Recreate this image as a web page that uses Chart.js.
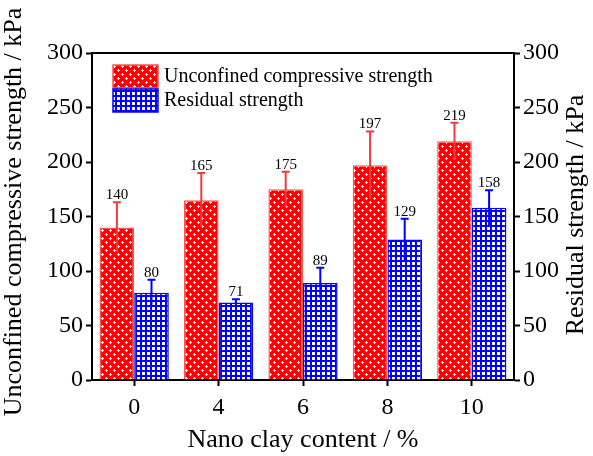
<!DOCTYPE html>
<html>
<head>
<meta charset="utf-8">
<script src="https://cdn.jsdelivr.net/npm/chart.js@4"></script>
<style>
  body { margin: 0; background: #fff; }
  canvas { display: block; }
</style>
</head>
<body>
<canvas id="graphe" width="593" height="456"></canvas>
<script>
// données : teneur en nano-argile (%) et résistances (kPa)
const categories = ['0', '4', '6', '8', '10'];
const ucsValues = [140, 165, 175, 197, 219];
const ucsErrors = [23, 25, 16, 31, 17];
const residualValues = [80, 71, 89, 129, 158];
const residualErrors = [12, 3, 14, 19, 16];

const serif = "'Liberation Serif', 'Times New Roman', serif";

// motif rouge : croix blanches en quinconce
function motifRouge() {
  const c = document.createElement('canvas');
  c.width = 8; c.height = 8;
  const g = c.getContext('2d');
  g.fillStyle = '#ff0000';
  g.fillRect(0, 0, 8, 8);
  g.fillStyle = '#ffffff';
  for (const [x, y] of [[1, 1], [5, 5]]) {
    g.fillRect(x + 1, y, 1, 3);
    g.fillRect(x, y + 1, 3, 1);
  }
  return g.createPattern(c, 'repeat');
}

// motif bleu : quadrillage
function motifBleu() {
  const c = document.createElement('canvas');
  c.width = 5; c.height = 5;
  const g = c.getContext('2d');
  g.fillStyle = '#0000ff';
  g.fillRect(0, 0, 5, 5);
  g.fillStyle = '#ffffff';
  g.fillRect(2, 2, 3, 3);
  return g.createPattern(c, 'repeat');
}

const rouge = motifRouge();
const bleu = motifBleu();

// barres d'erreur + valeurs au-dessus
const barresErreur = {
  id: 'barresErreur',
  afterDatasetsDraw(chart) {
    const ctx = chart.ctx;
    const erreurs = [ucsErrors, residualErrors];
    const couleurs = ['#ee3b3b', '#0000ff'];
    chart.data.datasets.forEach((ds, i) => {
      const meta = chart.getDatasetMeta(i);
      const y = chart.scales[ds.yAxisID];
      meta.data.forEach((bar, j) => {
        const v = ds.data[j];
        const e = erreurs[i][j];
        const yHaut = y.getPixelForValue(v + e);
        const yBas = y.getPixelForValue(v - e);
        ctx.save();
        ctx.strokeStyle = couleurs[i];
        ctx.lineWidth = 2;
        ctx.beginPath();
        ctx.moveTo(bar.x, yBas);
        ctx.lineTo(bar.x, yHaut);
        ctx.moveTo(bar.x - 4, yHaut);
        ctx.lineTo(bar.x + 4, yHaut);
        ctx.stroke();
        ctx.fillStyle = '#000';
        ctx.font = '15px ' + serif;
        ctx.textAlign = 'center';
        ctx.textBaseline = 'alphabetic';
        ctx.fillText(String(v), bar.x, yHaut - 3);
        ctx.restore();
      });
    });
  }
};

// cadre du haut, titres d'axes et légende
const habillage = {
  id: 'habillage',
  afterDraw(chart) {
    const ctx = chart.ctx;
    const a = chart.chartArea;
    ctx.save();
    ctx.strokeStyle = '#000';
    ctx.lineWidth = 2;
    ctx.beginPath();
    ctx.moveTo(a.left - 1, a.top);
    ctx.lineTo(a.right + 1, a.top);
    ctx.stroke();

    ctx.fillStyle = '#000';
    ctx.font = '26px ' + serif;
    ctx.textAlign = 'center';
    ctx.textBaseline = 'middle';
    ctx.fillText('Nano clay content / %', (a.left + a.right) / 2, 440);

    ctx.save();
    ctx.translate(14, 212);
    ctx.rotate(-Math.PI / 2);
    ctx.fillText('Unconfined compressive strength / kPa', 0, 0);
    ctx.restore();

    ctx.save();
    ctx.translate(576, 215);
    ctx.rotate(-Math.PI / 2);
    ctx.fillText('Residual strength / kPa', 0, 0);
    ctx.restore();

    // légende
    const items = [
      { texte: 'Unconfined compressive strength', fond: rouge, bord: '#f25a5a' },
      { texte: 'Residual strength', fond: bleu, bord: '#0000ff' }
    ];
    ctx.font = '20px ' + serif;
    ctx.textAlign = 'left';
    items.forEach((it, i) => {
      const y = 65 + i * 24;
      ctx.fillStyle = it.fond;
      ctx.fillRect(113, y, 45, 23);
      ctx.strokeStyle = it.bord;
      ctx.lineWidth = 1.5;
      ctx.strokeRect(113, y, 45, 23);
      ctx.fillStyle = '#000';
      ctx.fillText(it.texte, 164, y + 12);
    });
    ctx.restore();
  }
};

const axeY = (position, largeur) => ({
  type: 'linear',
  position: position,
  min: 0,
  max: 300,
  ticks: { stepSize: 50, color: '#000', font: { family: serif, size: 24 }, padding: 3 },
  grid: { drawOnChartArea: false, drawTicks: true, tickLength: 6, tickColor: '#000', tickWidth: 2 },
  border: { display: true, color: '#000', width: 2 },
  afterFit: (s) => { s.width = largeur; }
});

new Chart(document.getElementById('graphe'), {
  type: 'bar',
  data: {
    labels: categories,
    datasets: [
      {
        label: 'Unconfined compressive strength',
        data: ucsValues,
        backgroundColor: rouge,
        borderColor: '#f25a5a',
        borderWidth: 1.5,
        yAxisID: 'y'
      },
      {
        label: 'Residual strength',
        data: residualValues,
        backgroundColor: bleu,
        borderColor: '#0000ff',
        borderWidth: 1.5,
        yAxisID: 'y1'
      }
    ]
  },
  options: {
    responsive: false,
    animation: false,
    layout: { padding: { top: 53, left: 0, right: 0, bottom: 0 } },
    datasets: { bar: { categoryPercentage: 0.82, barPercentage: 1.0 } },
    plugins: { legend: { display: false }, tooltip: { enabled: false } },
    scales: {
      x: {
        offset: true,
        ticks: { color: '#000', font: { family: serif, size: 24 }, padding: 7 },
        grid: { offset: false, drawOnChartArea: false, drawTicks: true, tickLength: 6, tickColor: '#000', tickWidth: 2 },
        border: { display: true, color: '#000', width: 2 },
        afterFit: (s) => { s.height = 76; }
      },
      y: axeY('left', 92),
      y1: axeY('right', 79)
    }
  },
  plugins: [barresErreur, habillage]
});
</script>
</body>
</html>
